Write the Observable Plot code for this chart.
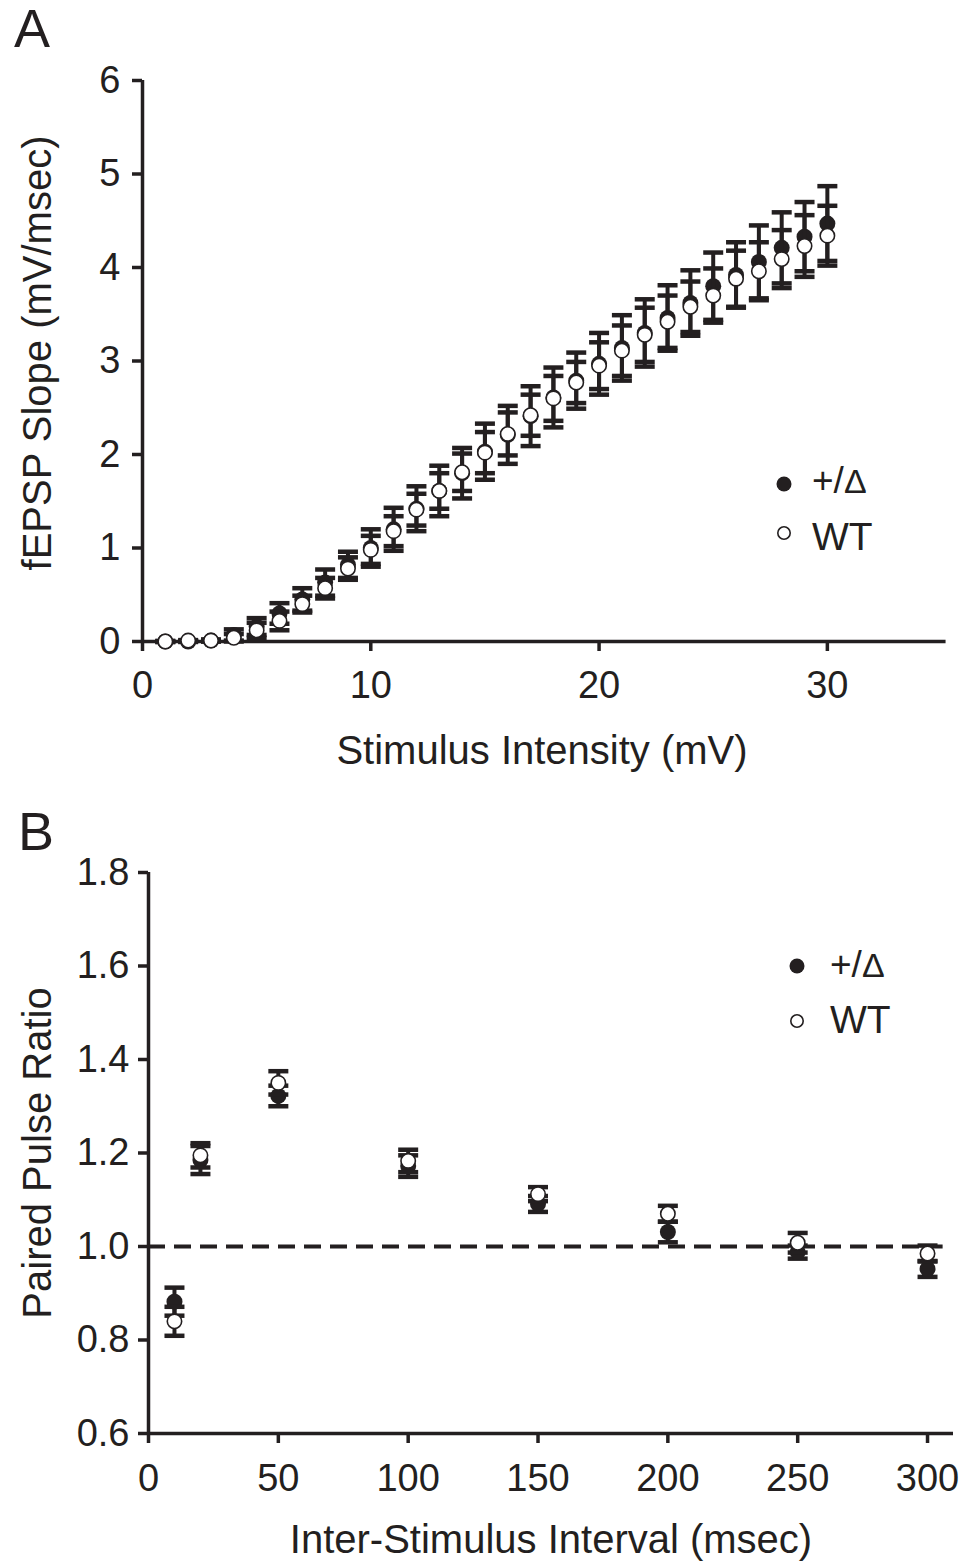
<!DOCTYPE html>
<html>
<head>
<meta charset="utf-8">
<script src="https://cdn.jsdelivr.net/npm/d3@7"></script>
<script src="https://cdn.jsdelivr.net/npm/@observablehq/plot@0.6"></script>
<style>
  body { margin: 0; background: #fff; }
  #wrap { position: relative; width: 975px; height: 1564px; background: #fff; font-family: "Liberation Sans", Arial, Helvetica, sans-serif; color: #231f20; }
  .panel { position: absolute; left: 0; }
  .letter { position: absolute; font-size: 54px; line-height: 54px; }
  svg { overflow: visible; }
</style>
</head>
<body>
<div id="wrap">
  <div id="panelA" class="panel" style="top:0px"></div>
  <div id="panelB" class="panel" style="top:790px"></div>
  <div class="letter" style="left:14px;top:1px">A</div>
  <div class="letter" style="left:18px;top:804px">B</div>
  <svg id="legend" width="975" height="1564" style="position:absolute;left:0;top:0;pointer-events:none" font-family="Liberation Sans, Arial, sans-serif" fill="#231f20"></svg>
</div>
<script>
// ---------- Panel A data ----------
const stimIntensity = [1,2,3,4,5,6,7,8,9,10,11,12,13,14,15,16,17,18,19,20,21,22,23,24,25,26,27,28,29,30];
const hetSlope    = [0,0,0.01,0.07,0.16,0.30,0.45,0.63,0.82,1.00,1.20,1.42,1.61,1.80,2.03,2.21,2.41,2.61,2.79,2.97,3.14,3.30,3.46,3.62,3.80,3.92,4.06,4.21,4.33,4.47];
const hetSlopeSem = [0.005,0.005,0.01,0.06,0.09,0.11,0.12,0.14,0.14,0.20,0.23,0.24,0.27,0.27,0.30,0.31,0.32,0.32,0.30,0.33,0.35,0.36,0.35,0.35,0.36,0.35,0.39,0.38,0.37,0.40];
const wtSlope     = [0,0.01,0.01,0.04,0.12,0.22,0.40,0.57,0.78,0.98,1.18,1.41,1.61,1.81,2.02,2.22,2.42,2.60,2.77,2.95,3.11,3.28,3.42,3.58,3.70,3.88,3.96,4.09,4.23,4.34];
const wtSlopeSem  = [0.005,0.005,0.01,0.04,0.08,0.10,0.09,0.11,0.12,0.15,0.16,0.17,0.19,0.20,0.22,0.23,0.22,0.24,0.22,0.25,0.27,0.29,0.28,0.27,0.29,0.30,0.31,0.31,0.33,0.32];
const slopeTicksX = [0,10,20,30];
const slopeTicksY = [0,1,2,3,4,5,6];

// ---------- Panel B data ----------
const isi       = [10,20,50,100,150,200,250,300];
const hetPPR    = [0.882,1.185,1.322,1.172,1.091,1.031,0.988,0.952];
const hetPPRSem = [0.030,0.030,0.022,0.023,0.017,0.022,0.014,0.017];
const wtPPR     = [0.840,1.195,1.350,1.183,1.112,1.070,1.008,0.985];
const wtPPRSem  = [0.031,0.026,0.025,0.024,0.015,0.017,0.021,0.017];
const pprTicksX = [0,50,100,150,200,250,300];
const pprTicksY = [0.6,0.8,1.0,1.2,1.4,1.6,1.8];

const INK = "#231f20";
const FONT = "Liberation Sans, Arial, Helvetica, sans-serif";

// horizontal cap symbol for error bars
const capSymbol = {
  draw(context, size) {
    const r = Math.sqrt(size / Math.PI);
    context.moveTo(-r, 0);
    context.lineTo(r, 0);
  }
};

function rows(xs, ys, es) {
  return xs.map((x, i) => ({x, y: ys[i], e: es[i]}));
}

function errMarks(data) {
  return [
    Plot.ruleX(data, {x: "x", y1: d => d.y - d.e, y2: d => d.y + d.e, stroke: INK, strokeWidth: 4}),
    Plot.dot(data, {x: "x", y: d => d.y + d.e, symbol: capSymbol, r: 10, stroke: INK, strokeWidth: 4.5, fill: "none"}),
    Plot.dot(data, {x: "x", y: d => d.y - d.e, symbol: capSymbol, r: 10, stroke: INK, strokeWidth: 4.5, fill: "none"})
  ];
}

function axes(ticksX, ticksY, fmtY, padY, padX) {
  return [
    Plot.axisX({ticks: ticksX, tickSize: 10, tickPadding: padX, strokeWidth: 3.5, color: INK, fontSize: 38, label: null}),
    Plot.axisY({ticks: ticksY, tickSize: 10, tickPadding: padY, strokeWidth: 3.5, color: INK, fontSize: 38, label: null, tickFormat: fmtY})
  ];
}

// ---------- Panel A ----------
const hetA = rows(stimIntensity, hetSlope, hetSlopeSem);
const wtA = rows(stimIntensity, wtSlope, wtSlopeSem);

const plotA = Plot.plot({
  width: 975, height: 790,
  marginLeft: 142, marginRight: 34, marginTop: 80, marginBottom: 149,
  style: {fontFamily: FONT, background: "transparent", overflow: "visible"},
  x: {domain: [0, 35], label: null},
  y: {domain: [0, 6], label: null},
  marks: [
    ...axes(slopeTicksX, slopeTicksY, d3.format("d"), 12, 20),
    Plot.ruleY([0], {x1: 0, x2: 35.2, stroke: INK, strokeWidth: 3.5}),
    Plot.ruleX([0], {stroke: INK, strokeWidth: 3.5}),
    ...errMarks(hetA),
    Plot.dot(hetA, {x: "x", y: "y", r: 8, fill: INK, stroke: "none"}),
    ...errMarks(wtA),
    Plot.dot(wtA, {x: "x", y: "y", r: 7.2, fill: "white", stroke: INK, strokeWidth: 1.6}),
    Plot.text(["Stimulus Intensity (mV)"], {frameAnchor: "bottom", dy: 94, lineAnchor: "top", fontSize: 40, fill: INK}),
    Plot.text(["fEPSP Slope (mV/msec)"], {frameAnchor: "left", dx: -104, dy: -8, rotate: -90, lineAnchor: "middle", textAnchor: "middle", fontSize: 40, fill: INK})
  ]
});
document.getElementById("panelA").appendChild(plotA);

// ---------- Panel B ----------
const hetB = rows(isi, hetPPR, hetPPRSem);
const wtB = rows(isi, wtPPR, wtPPRSem);

const plotB = Plot.plot({
  width: 975, height: 774,
  marginLeft: 148, marginRight: 22, marginTop: 82, marginBottom: 131,
  style: {fontFamily: FONT, background: "transparent", overflow: "visible"},
  x: {domain: [0, 310], label: null},
  y: {domain: [0.6, 1.8], label: null},
  marks: [
    ...axes(pprTicksX, pprTicksY, d3.format(".1f"), 9, 21),
    Plot.ruleY([0.6], {stroke: INK, strokeWidth: 3.5}),
    Plot.ruleX([0], {stroke: INK, strokeWidth: 3.5}),
    Plot.ruleY([1.0], {x1: 0, x2: 306, stroke: INK, strokeWidth: 4, strokeDasharray: "17,9"}),
    ...errMarks(hetB),
    Plot.dot(hetB, {x: "x", y: "y", r: 8, fill: INK, stroke: "none"}),
    ...errMarks(wtB),
    Plot.dot(wtB, {x: "x", y: "y", r: 7.2, fill: "white", stroke: INK, strokeWidth: 1.6}),
    Plot.text(["Inter-Stimulus Interval (msec)"], {frameAnchor: "bottom", dy: 91, lineAnchor: "top", fontSize: 40, fill: INK}),
    Plot.text(["Paired Pulse Ratio"], {frameAnchor: "left", dx: -110, rotate: -90, lineAnchor: "middle", textAnchor: "middle", fontSize: 40, fill: INK})
  ]
});
document.getElementById("panelB").appendChild(plotB);

// ---------- Legends ----------
const legendItems = [
  {cx: 784, cy: 484, tx: 812, ty: 493, label: "+/Δ", filled: true},
  {cx: 784, cy: 533, tx: 812, ty: 550, label: "WT", filled: false},
  {cx: 797, cy: 966, tx: 830, ty: 977, label: "+/Δ", filled: true},
  {cx: 797, cy: 1021, tx: 830, ty: 1033, label: "WT", filled: false}
];
const lg = d3.select("#legend");
for (const it of legendItems) {
  lg.append("circle").attr("cx", it.cx).attr("cy", it.cy)
    .attr("r", it.filled ? 7.5 : 6.2)
    .attr("fill", it.filled ? INK : "white")
    .attr("stroke", it.filled ? "none" : INK)
    .attr("stroke-width", 1.6);
  const t = lg.append("text").attr("x", it.tx).attr("y", it.ty).attr("font-size", 39).attr("fill", INK);
  if (it.label === "+/Δ") {
    t.append("tspan").attr("font-size", 37).text("+/");
    t.append("tspan").attr("font-size", 34).text("Δ");
  } else {
    t.text(it.label);
  }
}
</script>
</body>
</html>
